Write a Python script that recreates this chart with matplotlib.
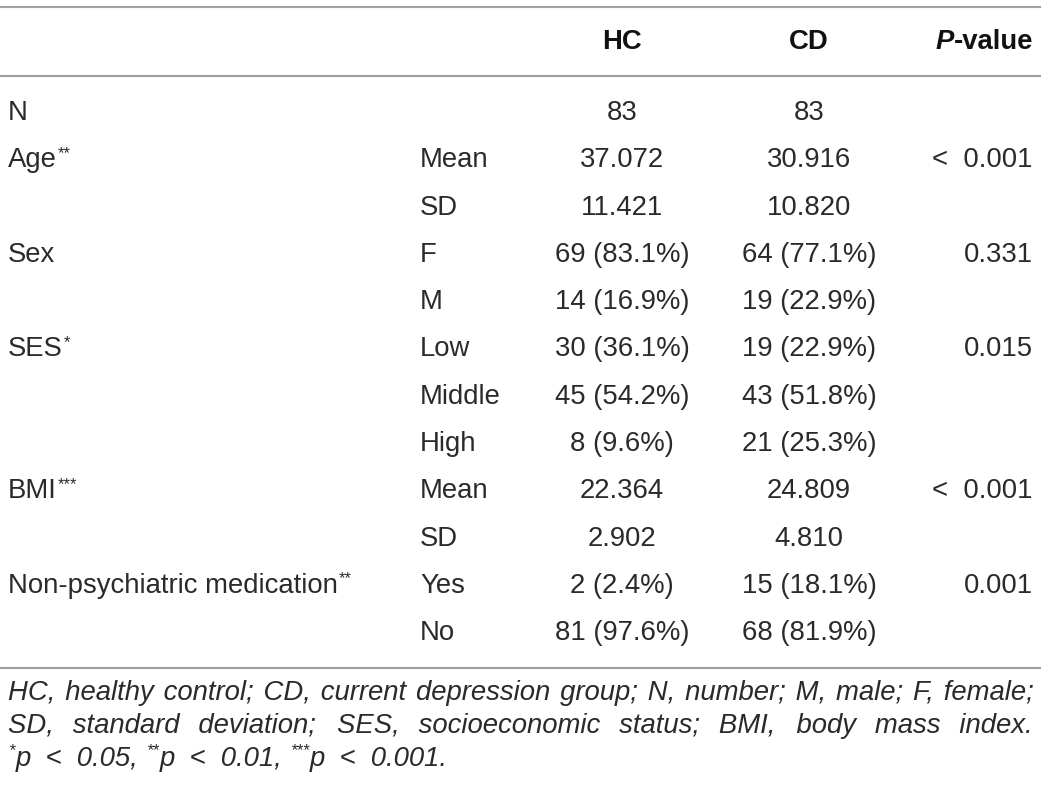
import matplotlib
matplotlib.use('Agg')
import matplotlib.pyplot as plt

# table content
labels = ['N', 'Age', '', 'Sex', '', 'SES', '', '', 'BMI', '', 'Non-psychiatric medication', '']
stars = ['', '**', '', '', '', '*', '', '', '***', '', '**', '']
sub = ['', 'Mean', 'SD', 'F', 'M', 'Low', 'Middle', 'High', 'Mean', 'SD', 'Yes', 'No']
hc = ['83', '37.072', '11.421', '69 (83.1%)', '14 (16.9%)', '30 (36.1%)', '45 (54.2%)',
      '8 (9.6%)', '22.364', '2.902', '2 (2.4%)', '81 (97.6%)']
cd = ['83', '30.916', '10.820', '64 (77.1%)', '19 (22.9%)', '19 (22.9%)', '43 (51.8%)',
      '21 (25.3%)', '24.809', '4.810', '15 (18.1%)', '68 (81.9%)']
pval = ['', '<  0.001', '', '0.331', '', '0.015', '', '', '<  0.001', '', '0.001', '']

note1 = 'HC, healthy control; CD, current depression group; N, number; M, male; F, female;'
note2 = 'SD, standard deviation; SES, socioeconomic status; BMI, body mass index.'
note3 = [('*', 'p  <  0.05, '), ('**', 'p  <  0.01, '), ('***', 'p  <  0.001.')]

FONT = ['Liberation Sans', 'DejaVu Sans']
W, H = 1041, 792
fig = plt.figure(figsize=(W / 100, H / 100), dpi=100)
ax = fig.add_axes([0, 0, 1, 1])
ax.set_xlim(0, W)
ax.set_ylim(H, 0)
ax.axis('off')
r = fig.canvas.get_renderer()

FS = 19.8
TXT = '#2a2a2a'
LINE = '#a0a0a0'


def width(t):
    return t.get_window_extent(r).width


def put(x, y, s, **kw):
    kw.setdefault('fontsize', FS)
    kw.setdefault('family', FONT)
    kw.setdefault('color', TXT)
    kw.setdefault('va', 'center')
    return ax.text(x, y, s, **kw)


def measure(s, **kw):
    t = put(0, 0, s, **kw)
    w = width(t)
    t.remove()
    return w


for yl in [7, 76, 668]:
    ax.plot([0, W], [yl, yl], color=LINE, lw=1.5, solid_capstyle='butt')

# header
hy = 42
put(622, hy, 'HC', ha='center', fontweight='bold', color='#111111')
put(809, hy, 'CD', ha='center', fontweight='bold', color='#111111')
w = measure('-value', fontweight='bold')
put(1033, hy, '-value', ha='right', fontweight='bold', color='#111111')
put(1033 - w, hy, 'P', ha='right', fontweight='bold', style='italic', color='#111111')

y0, dy = 113, 47.3
for i in range(len(sub)):
    y = y0 + i * dy
    if labels[i]:
        t = put(8, y, labels[i])
        if stars[i]:
            put(8 + width(t) + 1, y - 7, stars[i], fontsize=FS * 0.6)
    put(420, y, sub[i])
    put(622, y, hc[i], ha='center')
    put(809, y, cd[i], ha='center')
    if pval[i]:
        put(1033, y, pval[i], ha='right')

# footnote, justified with hair spaces; size so the first line nearly fills the width
NFS = 10 * 1005 / measure(note1, fontsize=10, style='italic')
nkw = dict(fontsize=NFS, style='italic', va='baseline')
HS = '\u200a'
hair = measure('a' + HS * 10 + 'b', **nkw) - measure('ab', **nkw)
hair /= 10


def justify(line, y, x0=8, x1=1033):
    words = line.split(' ')
    gaps = len(words) - 1
    extra = (x1 - x0) - measure(line, **nkw)
    n = max(0, round(extra / hair))
    s = words[0]
    for k in range(gaps):
        cnt = round(n * (k + 1) / gaps) - round(n * k / gaps)
        s += ' ' + HS * cnt + words[k + 1]
    put(x0, y, s, **nkw)


justify(note1, 700)
justify(note2, 733)

sp = measure('a b', **nkw) - measure('ab', **nkw)
x = 8
for st, rest in note3:
    t = put(x, 755, st, fontsize=NFS * 0.6, style='italic', va='baseline')
    x += width(t) + 1
    t = put(x, 766, rest.rstrip(), **nkw)
    x += width(t) + (sp if rest.endswith(' ') else 0)

fig.savefig('out.png', dpi=100)
